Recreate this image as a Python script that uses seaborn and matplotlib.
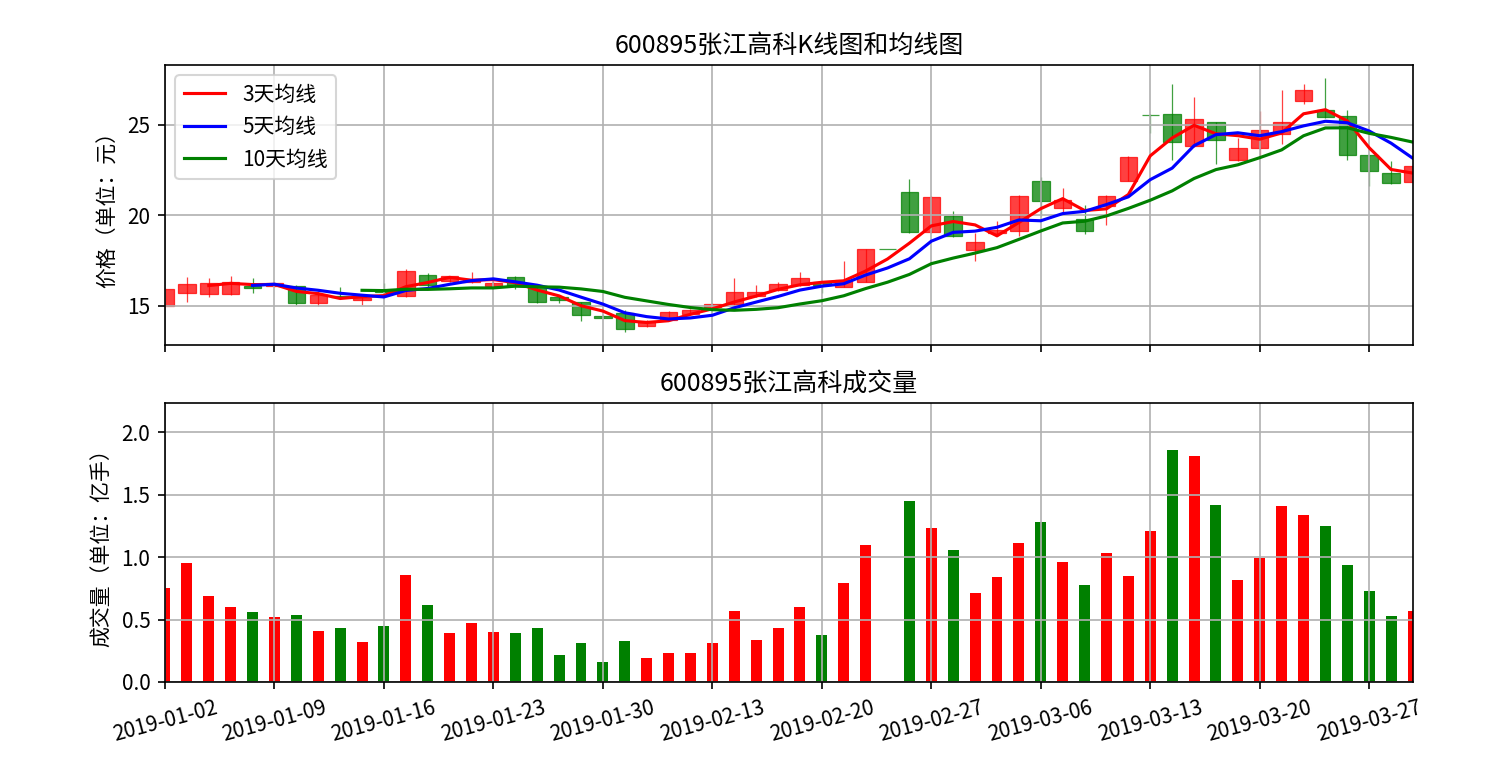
import numpy as np
import pandas as pd
import matplotlib
matplotlib.use("Agg")
import matplotlib.pyplot as plt
import seaborn as sns

# ---------------- data ----------------
dates = [
    "2019-01-02", "2019-01-03", "2019-01-04", "2019-01-07", "2019-01-08", "2019-01-09",
    "2019-01-10", "2019-01-11", "2019-01-14", "2019-01-15", "2019-01-16", "2019-01-17",
    "2019-01-18", "2019-01-21", "2019-01-22", "2019-01-23", "2019-01-24", "2019-01-25",
    "2019-01-28", "2019-01-29", "2019-01-30", "2019-01-31", "2019-02-01", "2019-02-11",
    "2019-02-12", "2019-02-13", "2019-02-14", "2019-02-15", "2019-02-18", "2019-02-19",
    "2019-02-20", "2019-02-21", "2019-02-22", "2019-02-25", "2019-02-26", "2019-02-27",
    "2019-02-28", "2019-03-01", "2019-03-04", "2019-03-05", "2019-03-06", "2019-03-07",
    "2019-03-08", "2019-03-11", "2019-03-12", "2019-03-13", "2019-03-14", "2019-03-15",
    "2019-03-18", "2019-03-19", "2019-03-20", "2019-03-21", "2019-03-22", "2019-03-25",
    "2019-03-26", "2019-03-27", "2019-03-28", "2019-03-29",
]
opens = [15.00, 15.72, 15.62, 15.62, 16.10, 16.10, 16.10, 15.13, 15.55, 15.28,
         15.85, 15.55, 16.69, 16.35, 16.30, 16.10, 16.60, 16.05, 15.50, 15.18,
         14.44, 14.57, 13.87, 14.20, 14.54, 14.90, 15.09, 15.54, 15.87, 16.15,
         16.30, 16.02, 16.33, 18.15, 21.28, 19.06, 19.94, 18.09, 19.00, 19.12,
         21.92, 20.40, 19.80, 20.49, 21.92, 25.55, 25.60, 23.81, 25.16, 23.05,
         23.74, 24.47, 26.33, 25.82, 25.47, 23.32, 22.32, 21.86]
closes = [15.92, 16.17, 16.23, 16.28, 15.97, 16.25, 15.13, 15.59, 15.45, 15.44,
          15.76, 16.93, 16.14, 16.61, 16.45, 16.25, 16.10, 15.22, 15.28, 14.47,
          14.33, 13.70, 14.15, 14.63, 14.76, 15.07, 15.76, 15.74, 16.19, 16.52,
          16.15, 16.43, 18.15, 18.15, 19.06, 21.02, 18.87, 18.50, 19.20, 21.09,
          20.80, 20.86, 19.12, 21.08, 23.23, 25.55, 24.05, 25.33, 24.14, 23.74,
          24.74, 25.18, 26.92, 25.42, 23.32, 22.46, 21.81, 22.72]
highs = [15.95, 16.60, 16.54, 16.61, 16.50, 16.30, 16.14, 15.83, 16.05, 15.53,
         16.23, 17.02, 16.80, 16.65, 16.83, 16.55, 16.65, 16.10, 15.55, 15.20,
         14.46, 14.76, 14.18, 14.68, 14.80, 15.15, 16.52, 16.15, 16.28, 16.85,
         16.35, 17.48, 18.15, 18.15, 21.98, 21.05, 20.26, 19.02, 19.70, 21.10,
         22.10, 21.50, 20.55, 21.10, 23.25, 25.60, 27.28, 26.55, 25.18, 24.25,
         25.78, 26.93, 27.28, 27.61, 25.84, 23.35, 23.00, 22.75]
lows = [14.98, 15.18, 15.50, 15.60, 15.72, 16.00, 15.04, 14.95, 15.40, 15.04,
        15.50, 15.50, 16.05, 16.30, 16.25, 16.00, 15.90, 15.15, 15.13, 14.12,
        14.30, 13.52, 13.80, 14.15, 14.50, 14.85, 15.05, 15.50, 15.80, 16.10,
        15.70, 16.00, 16.30, 18.15, 19.00, 19.00, 18.80, 17.48, 18.85, 18.85,
        19.95, 20.20, 18.94, 19.45, 21.90, 24.55, 23.08, 23.80, 22.81, 23.00,
        23.23, 23.96, 26.15, 25.40, 23.05, 21.62, 21.72, 21.80]
volumes = [0.75, 0.95, 0.69, 0.60, 0.56, 0.52, 0.54, 0.41, 0.43, 0.32,
           0.45, 0.86, 0.62, 0.39, 0.47, 0.40, 0.39, 0.43, 0.22, 0.31,
           0.16, 0.33, 0.19, 0.23, 0.23, 0.31, 0.57, 0.34, 0.43, 0.60,
           0.38, 0.79, 1.10, 0.00, 1.45, 1.23, 1.06, 0.71, 0.84, 1.11,
           1.28, 0.96, 0.78, 1.03, 0.85, 1.21, 1.86, 1.81, 1.42, 0.82,
           0.99, 1.41, 1.34, 1.25, 0.94, 0.73, 0.53, 0.57]
ma_windows = [3, 5, 10]
ma_labels = ["3天均线", "5天均线", "10天均线"]
ma_colors = ["red", "blue", "green"]
title_k = "600895张江高科K线图和均线图"
title_v = "600895张江高科成交量"
ylabel_k = "价格（单位：元）"
ylabel_v = "成交量（单位：亿手）"

# ---------------- frame ----------------
df = pd.DataFrame({"date": dates, "open": opens, "close": closes,
                   "high": highs, "low": lows, "volume": volumes})
df["idx"] = np.arange(len(df))
for w in ma_windows:
    df[f"ma{w}"] = df["close"].rolling(w).mean()
df["vol_dir"] = np.where(df["close"] >= df["open"], "up", "down")
candle_up = df["close"] > df["open"]

plt.rcParams["font.family"] = ["Noto Sans CJK SC", "DejaVu Sans"]
plt.rcParams["axes.unicode_minus"] = False

W, H, DPI = 1506, 764, 150
fig = plt.figure(figsize=(W / DPI, H / DPI), dpi=DPI)
ax1 = fig.add_axes([165 / W, 1 - 345 / H, 1248 / W, 280 / H])
ax2 = fig.add_axes([165 / W, 1 - 682 / H, 1248 / W, 279 / H], sharex=ax1)

# ---------------- candlesticks ----------------
up_rgba = (1.0, 0.0, 0.0, 0.75)
dn_rgba = (0.0, 0.5, 0.0, 0.75)
ccolors = [up_rgba if u else dn_rgba for u in candle_up]
ax1.vlines(df["idx"], df["low"], df["high"], colors=ccolors, linewidth=0.6, zorder=1)
body_bottom = np.minimum(df["open"], df["close"])
body_height = (df["close"] - df["open"]).abs()
ax1.bar(df["idx"], body_height, bottom=body_bottom, width=0.8,
        color=ccolors, edgecolor=ccolors, linewidth=0.6, zorder=1)

for w, lab, col in zip(ma_windows, ma_labels, ma_colors):
    sns.lineplot(data=df, x="idx", y=f"ma{w}", color=col, label=lab,
                 linewidth=1.5, ax=ax1, zorder=2)

ax1.set_title(title_k, fontsize=12)
ax1.set_ylabel(ylabel_k, fontsize=10)
ax1.set_xlabel("")
ax1.legend(loc="upper left", fontsize=10)
ax1.grid(True)

# ---------------- volume ----------------
sns.barplot(data=df, x="idx", y="volume", hue="vol_dir",
            palette={"up": "red", "down": "green"}, native_scale=True,
            dodge=False, width=0.5, errorbar=None, legend=False,
            saturation=1, ax=ax2)
ax2.set_title(title_v, fontsize=12)
ax2.set_ylabel(ylabel_v, fontsize=10)
ax2.set_xlabel("")
ax2.set_ylim(0, max(volumes) * 1.2)
ax2.grid(True)

ticks = list(range(0, len(dates), 5))
ax2.set_xticks(ticks)
ax2.set_xticklabels([dates[i] for i in ticks], rotation=15, fontsize=10)
ax2.set_xlim(0, len(dates) - 1)
ax1.set_xlim(0, len(dates) - 1)
ax1.tick_params(labelbottom=False)
for a in (ax1, ax2):
    a.set_axisbelow("line")

fig.savefig("out.png", dpi=DPI)
